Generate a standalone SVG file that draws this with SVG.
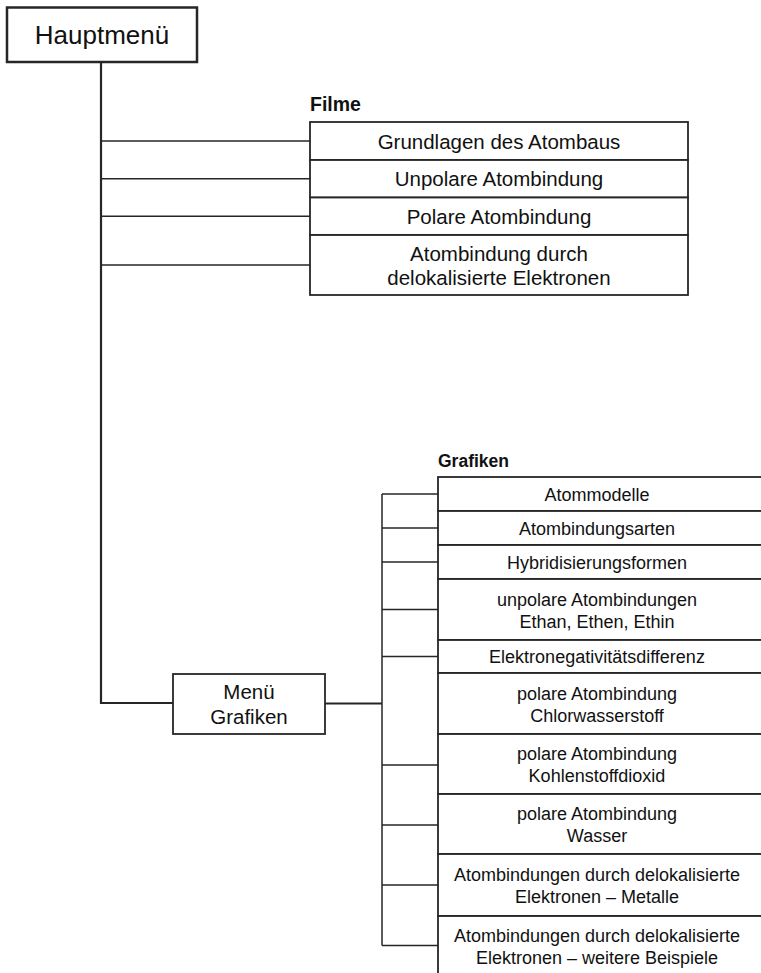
<svg xmlns="http://www.w3.org/2000/svg" width="761" height="973" viewBox="0 0 761 973">
<style>
  .box { fill: #fff; stroke: #262626; stroke-width: 1.8; }
  .main { fill: #fff; stroke: #262626; stroke-width: 2.5; }
  .conn { fill: none; stroke: #262626; stroke-width: 1.5; }
  .thick { fill: none; stroke: #262626; stroke-width: 2.2; }
  text { font-family: "Liberation Sans", Arial, sans-serif; fill: #111; text-anchor: middle; }
  .t26 { font-size: 26px; }
  .t21 { font-size: 20.5px; }
  .t18 { font-size: 18px; }
  .hdr { font-weight: bold; text-anchor: start; }
</style>
<rect width="761" height="973" fill="#fff"/>
<g id="connectors">
  <polyline class="thick" points="101,62 101,703 173,703"/>
  <line class="conn" x1="101" y1="141" x2="310" y2="141"/>
  <line class="conn" x1="101" y1="178.75" x2="310" y2="178.75"/>
  <line class="conn" x1="101" y1="216.25" x2="310" y2="216.25"/>
  <line class="conn" x1="101" y1="265" x2="310" y2="265"/>
  <line class="thick" x1="325" y1="703.5" x2="382" y2="703.5"/>
  <line class="conn" x1="382" y1="494" x2="382" y2="945.5"/>
  <line class="conn" x1="382" y1="494" x2="438" y2="494"/>
  <line class="conn" x1="382" y1="528" x2="438" y2="528"/>
  <line class="conn" x1="382" y1="562" x2="438" y2="562"/>
  <line class="conn" x1="382" y1="609.5" x2="438" y2="609.5"/>
  <line class="conn" x1="382" y1="656.5" x2="438" y2="656.5"/>
  <line class="conn" x1="382" y1="765" x2="438" y2="765"/>
  <line class="conn" x1="382" y1="825" x2="438" y2="825"/>
  <line class="conn" x1="382" y1="885" x2="438" y2="885"/>
  <line class="conn" x1="382" y1="945.5" x2="438" y2="945.5"/>
</g>
<g id="hauptmenue">
  <rect class="main" x="7" y="7.5" width="190" height="54.5"/>
  <text class="t26" x="102" y="44">Hauptmenü</text>
</g>
<g id="filme-label"><text class="hdr" x="310" y="110.5" style="font-size:19.5px">Filme</text></g>
<g id="f1"><rect class="box" x="310" y="122" width="378" height="38"/><text class="t21" x="499" y="148.5">Grundlagen des Atombaus</text></g>
<g id="f2"><rect class="box" x="310" y="160" width="378" height="37.5"/><text class="t21" x="499" y="186">Unpolare Atombindung</text></g>
<g id="f3"><rect class="box" x="310" y="197.5" width="378" height="37.5"/><text class="t21" x="499" y="223.5">Polare Atombindung</text></g>
<g id="f4"><rect class="box" x="310" y="235" width="378" height="60"/><text class="t21" x="499" y="260.5">Atombindung durch</text><text class="t21" x="499" y="284.5">delokalisierte Elektronen</text></g>
<g id="menue-grafiken">
  <rect class="box" x="173" y="674" width="152" height="60"/>
  <text class="t21" x="249" y="699">Menü</text>
  <text class="t21" x="249" y="724">Grafiken</text>
</g>
<g id="grafiken-label"><text class="hdr" x="438" y="467" style="font-size:17.5px">Grafiken</text></g>
<g id="g1"><rect class="box" x="438" y="477" width="330" height="34"/><text class="t18" x="597" y="500.5">Atommodelle</text></g>
<g id="g2"><rect class="box" x="438" y="511" width="330" height="34"/><text class="t18" x="597" y="534.5">Atombindungsarten</text></g>
<g id="g3"><rect class="box" x="438" y="545" width="330" height="34"/><text class="t18" x="597" y="568.5">Hybridisierungsformen</text></g>
<g id="g4"><rect class="box" x="438" y="579" width="330" height="61"/><text class="t18" x="597" y="605.5">unpolare Atombindungen</text><text class="t18" x="597" y="627.5">Ethan, Ethen, Ethin</text></g>
<g id="g5"><rect class="box" x="438" y="640" width="330" height="33"/><text class="t18" x="597" y="663">Elektronegativitätsdifferenz</text></g>
<g id="g6"><rect class="box" x="438" y="673" width="330" height="61"/><text class="t18" x="597" y="699.5">polare Atombindung</text><text class="t18" x="597" y="721.5">Chlorwasserstoff</text></g>
<g id="g7"><rect class="box" x="438" y="734" width="330" height="60"/><text class="t18" x="597" y="760">polare Atombindung</text><text class="t18" x="597" y="782">Kohlenstoffdioxid</text></g>
<g id="g8"><rect class="box" x="438" y="794" width="330" height="60"/><text class="t18" x="597" y="820">polare Atombindung</text><text class="t18" x="597" y="842">Wasser</text></g>
<g id="g9"><rect class="box" x="438" y="854" width="330" height="62"/><text class="t18" x="597" y="881">Atombindungen durch delokalisierte</text><text class="t18" x="597" y="903">Elektronen – Metalle</text></g>
<g id="g10"><rect class="box" x="438" y="916" width="330" height="62"/><text class="t18" x="597" y="942">Atombindungen durch delokalisierte</text><text class="t18" x="597" y="964">Elektronen – weitere Beispiele</text></g>
</svg>
